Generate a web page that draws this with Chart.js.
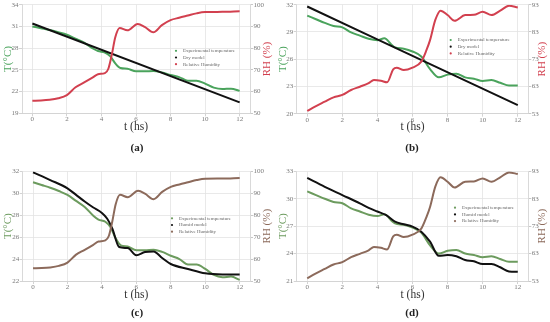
<!DOCTYPE html>
<html><head><meta charset="utf-8">
<script src="https://cdn.jsdelivr.net/npm/chart.js@4"></script>
<style>
html,body{margin:0;padding:0;background:#fff;}
#wrap{position:relative;width:550px;height:322px;overflow:hidden;background:#fff;}
.panel{position:absolute;}
.panel canvas{display:block;}
.cap{position:absolute;font:bold 11px "Liberation Serif",serif;color:#222;transform:translate(-50%,-50%);white-space:nowrap;}
</style></head><body>
<div id="wrap">
  <div class="panel" style="left:0;top:0;"><canvas id="ca" width="275" height="160"></canvas></div>
  <div class="panel" style="left:275px;top:0;"><canvas id="cb" width="275" height="160"></canvas></div>
  <div class="panel" style="left:0;top:160px;"><canvas id="cc" width="275" height="162"></canvas></div>
  <div class="panel" style="left:275px;top:160px;"><canvas id="cd" width="275" height="162"></canvas></div>
  <div class="cap" style="left:137px;top:147px;">(a)</div>
  <div class="cap" style="left:412px;top:147px;">(b)</div>
  <div class="cap" style="left:137px;top:312px;">(c)</div>
  <div class="cap" style="left:412px;top:312px;">(d)</div>
</div>
<script>
// ---------- data ----------
const xTickHours = [0, 2, 4, 6, 8, 10, 12];

// experiment 1 (panels a, c)
const tExp1 = [0,0.5,1,1.5,2,2.5,3,3.5,3.8,4.2,4.5,4.8,5.1,5.5,6,6.5,7,7.5,8,8.5,9,9.5,10,10.5,11,11.5,12];
const tempExp1 = [31.0,30.75,30.5,30.2,29.85,29.3,28.75,27.95,27.6,27.4,26.9,25.9,25.25,25.15,24.8,24.8,24.85,24.65,24.3,24.0,23.5,23.5,23.1,22.55,22.35,22.4,22.1];
const tRh1 = [0,0.5,1,1.5,2,2.5,3,3.5,3.8,4.2,4.4,4.6,4.8,5.05,5.5,6.1,6.5,7,7.5,8,8.5,9,9.5,10,11,12];
const rh1 = [55.8,55.9,56.2,56.9,58.4,62.0,64.2,66.5,68.0,68.5,70.5,77.0,85.0,89.3,88.2,91.1,89.8,87.3,90.6,92.9,94.0,95.0,96.0,96.6,96.7,97.0];
const tDryA = [0, 12];
const dryA = [31.4, 20.5];
const tHumC = [0,1,2,2.5,3,3.5,4,4.3,4.6,5,5.5,6,6.5,7,7.5,8,9,10,11,12];
const humC = [31.9,31.2,30.45,29.85,29.25,28.7,28.2,27.7,26.8,25.1,25.0,24.35,24.65,24.7,24.1,23.55,23.1,22.7,22.6,22.6];

// experiment 2 (panels b, d)
const tExp2 = [0,0.5,1,1.5,2,2.5,3,3.5,4,4.4,4.8,5,5.5,6,6.5,7,7.5,8,8.5,9,9.5,10,10.5,11,11.5,12];
const tempExp2 = [30.8,30.4,30.0,29.65,29.5,28.95,28.6,28.25,28.1,28.3,27.6,27.3,27.15,26.85,26.3,24.9,24.0,24.3,24.4,24.0,23.85,23.6,23.7,23.4,23.1,23.1];
const tRh2 = [0,0.5,1,1.5,2,2.5,3,3.5,3.8,4.2,4.55,4.9,5.1,5.5,6,6.5,6.8,7,7.3,7.6,8,8.4,9,9.5,10,10.5,11,11.5,12];
const rh2 = [54.0,55.8,57.4,59.0,59.9,61.7,62.9,64.2,65.4,65.1,64.5,69.3,69.9,69.0,69.9,72.1,76.4,80.0,87.4,90.8,89.2,87.1,89.2,89.3,90.4,89.2,90.8,92.6,92.0];
const tDryB = [0, 12];
const dryB = [31.8, 20.95];
const tHumD = [0,1,2,3,3.5,4,4.5,5,5.5,6,6.5,7,7.5,8,8.5,9,9.5,10,10.5,11,11.5,12];
const humD = [32.27,31.3,30.4,29.5,29.0,28.6,28.2,27.5,27.2,26.95,26.4,25.3,23.75,23.85,23.7,23.3,23.15,22.85,22.85,22.5,22.05,22.0];

// tick labels
const tTicksA = [19,22,25,28,31,34];
const rhTicksA = [50,60,70,80,90,100];
const tTicksB = [20,23,26,29,32];
const rhTicksB = [53,63,73,83,93];
const tTicksC = [22,24,26,28,30,32];
const rhTicksC = [50,60,70,80,90,100];
const tTicksD = [21,24,27,30,33];
const rhTicksD = [53,63,73,83,93];

const seriesLabels = ['Experimental temperature', 'Dry model', 'Humid model', 'Relative Humidity'];

// ---------- helpers ----------
const zip = (ts, vs) => ts.map((t, i) => ({x: t, y: vs[i]}));
const SERIF = '"Liberation Serif", "DejaVu Serif", serif';

const miniLegend = {
  id: 'miniLegend',
  afterDraw(chart, args, o) {
    const ctx = chart.ctx;
    ctx.save();
    ctx.font = '5px ' + SERIF;
    ctx.textBaseline = 'middle';
    ctx.textAlign = 'left';
    chart.data.datasets.forEach((ds, i) => {
      const y = o.y + i * o.dy;
      ctx.fillStyle = ds.borderColor;
      ctx.beginPath(); ctx.arc(o.x, y, 1.1, 0, Math.PI * 2); ctx.fill();
      ctx.fillStyle = '#666';
      ctx.fillText(ds.label, o.x + 7, y);
    });
    ctx.restore();
  }
};
const rightTitle = {
  id: 'rightTitle',
  afterDraw(chart, args, o) {
    const ctx = chart.ctx, a = chart.chartArea;
    ctx.save();
    ctx.font = '11px ' + SERIF;
    ctx.fillStyle = o.color;
    ctx.textAlign = 'center';
    ctx.textBaseline = 'middle';
    ctx.translate(o.x, (a.top + a.bottom) / 2);
    ctx.rotate(-Math.PI / 2);
    ctx.fillText(o.text, 0, 0);
    ctx.restore();
  }
};

function setTicks(arr) {
  return (scale) => { scale.ticks = arr.map(v => ({value: v})); };
}

function makeChart(id, p) {
  const gridColor = '#e3e3e3';
  const tickColor = '#7a7a7a';
  return new Chart(document.getElementById(id), {
    type: 'line',
    data: {
      datasets: [
        {label: seriesLabels[0], data: zip(p.tExp, p.exp), borderColor: p.green, order: 2, yAxisID: 'y'},
        {label: p.modelLabel, data: zip(p.tModel, p.model), borderColor: '#111111', order: 1, yAxisID: 'y'},
        {label: seriesLabels[3], data: zip(p.tRh, p.rh), borderColor: p.red, order: 0, yAxisID: 'y1'}
      ]
    },
    options: {
      responsive: false,
      animation: false,
      events: [],
      elements: {
        point: {radius: 0},
        line: {borderWidth: 2, cubicInterpolationMode: 'monotone', fill: false}
      },
      layout: {padding: {top: p.top, left: 0, right: 0, bottom: 0}},
      plugins: {
        legend: {display: false},
        tooltip: {enabled: false},
        miniLegend: {x: p.legX, y: p.legY, dy: 6.7},
        rightTitle: {text: 'RH (%)', color: p.red, x: 267.5}
      },
      scales: {
        x: {
          type: 'linear', min: -0.6, max: 12.6,
          afterBuildTicks: setTicks(xTickHours),
          afterFit: (s) => { s.height = p.xH; },
          grid: {color: gridColor, lineWidth: 0.8, tickLength: 3, tickColor: '#c8c8c8'},
          border: {color: '#cfcfcf', width: 0.8},
          ticks: {color: tickColor, font: {family: SERIF, size: 7}, padding: -1, maxRotation: 0},
          title: {display: true, text: 't (hs)', color: '#333', font: {family: SERIF, size: 11.5}, padding: {top: 0, bottom: p.xTitlePad}}
        },
        y: {
          position: 'left', min: p.tTicks[0], max: p.tTicks[p.tTicks.length - 1],
          afterBuildTicks: setTicks(p.tTicks),
          afterFit: (s) => { s.width = p.leftW; },
          grid: {color: gridColor, lineWidth: 0.8, tickLength: 3, tickColor: '#c8c8c8'},
          border: {color: '#cfcfcf', width: 0.8},
          ticks: {color: tickColor, font: {family: SERIF, size: 7}, padding: 0.5},
          title: {display: true, text: 'T(°C)', color: p.green, font: {family: SERIF, size: 11}, padding: {top: 2, bottom: 0}}
        },
        y1: {
          position: 'right', min: p.rhTicks[0], max: p.rhTicks[p.rhTicks.length - 1],
          afterBuildTicks: setTicks(p.rhTicks),
          afterFit: (s) => { s.width = p.rightW; },
          grid: {drawOnChartArea: false, tickLength: 3, tickColor: '#c8c8c8'},
          border: {color: '#cfcfcf', width: 0.8},
          ticks: {color: tickColor, font: {family: SERIF, size: 7}, padding: 0.5}
        }
      }
    },
    plugins: [miniLegend, rightTitle]
  });
}

const greenAB = '#4aa35c', redAB = '#d2404f';
const greenCD = '#6c9b5e', brownCD = '#8c6a5b';

makeChart('ca', {tExp: tExp1, exp: tempExp1, tModel: tDryA, model: dryA, modelLabel: seriesLabels[1],
  tRh: tRh1, rh: rh1, green: greenAB, red: redAB, tTicks: tTicksA, rhTicks: rhTicksA,
  top: 4.7, leftW: 22, rightW: 25, xH: 46.7, xTitlePad: 25.7, legX: 176, legY: 50.8});
makeChart('cb', {tExp: tExp2, exp: tempExp2, tModel: tDryB, model: dryB, modelLabel: seriesLabels[1],
  tRh: tRh2, rh: rh2, green: greenAB, red: redAB, tTicks: tTicksB, rhTicks: rhTicksB,
  top: 4.7, leftW: 21.7, rightW: 21.7, xH: 46.3, xTitlePad: 25.7, legX: 175.7, legY: 40});
makeChart('cc', {tExp: tExp1, exp: tempExp1, tModel: tHumC, model: humC, modelLabel: seriesLabels[2],
  tRh: tRh1, rh: rh1, green: greenCD, red: brownCD, tTicks: tTicksC, rhTicks: rhTicksC,
  top: 11.3, leftW: 22.7, rightW: 25, xH: 41, xTitlePad: 19.7, legX: 172, legY: 58.3});
makeChart('cd', {tExp: tExp2, exp: tempExp2, tModel: tHumD, model: humD, modelLabel: seriesLabels[2],
  tRh: tRh2, rh: rh2, green: greenCD, red: brownCD, tTicks: tTicksD, rhTicks: rhTicksD,
  top: 11.3, leftW: 21.7, rightW: 21.7, xH: 41, xTitlePad: 19.7, legX: 180, legY: 47.7});
</script>
</body></html>
